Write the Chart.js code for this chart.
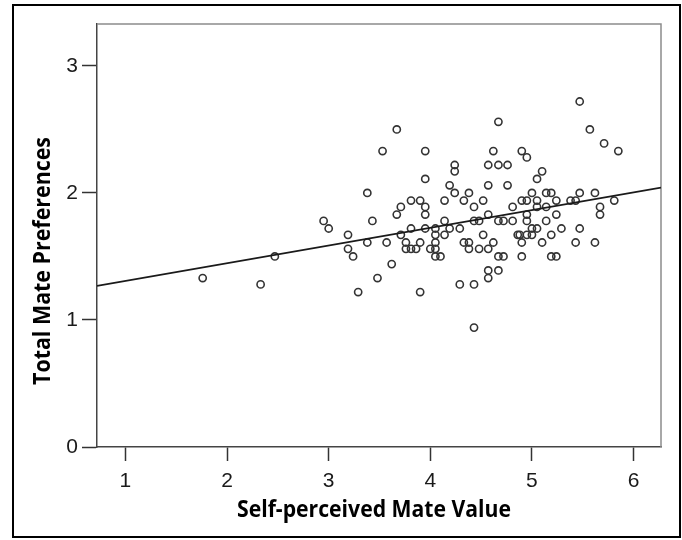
<!DOCTYPE html>
<html>
<head>
<meta charset="utf-8">
<script src="https://cdn.jsdelivr.net/npm/chart.js@4/dist/chart.umd.min.js"></script>
<style>
  body { margin: 0; background: #fff; }
  #wrap { width: 682px; height: 540px; }
</style>
</head>
<body>
<div id="wrap"><canvas id="scatter" width="682" height="540"></canvas></div>
<script>
// Self-perceived mate value (x) vs total mate preferences (y)
const mateValue = [
  1.76, 2.33, 2.47, 2.95, 3.00, 3.19, 3.19, 3.24, 3.29, 3.38, 3.38, 3.43, 3.48, 3.53, 3.57, 3.62,
  3.67, 3.67, 3.71, 3.71, 3.76, 3.76, 3.81, 3.81, 3.81, 3.86, 3.90, 3.90, 3.90, 3.95, 3.95, 3.95,
  3.95, 3.95, 4.00, 4.05, 4.05, 4.05, 4.05, 4.05, 4.10, 4.14, 4.14, 4.14, 4.19, 4.19, 4.24, 4.24,
  4.24, 4.29, 4.29, 4.33, 4.33, 4.38, 4.38, 4.38, 4.43, 4.43, 4.43, 4.43, 4.48, 4.48, 4.52, 4.52,
  4.57, 4.57, 4.57, 4.57, 4.57, 4.57, 4.62, 4.62, 4.67, 4.67, 4.67, 4.67, 4.67, 4.72, 4.72, 4.76,
  4.76, 4.81, 4.81, 4.86, 4.88, 4.90, 4.90, 4.90, 4.90, 4.95, 4.95, 4.95, 4.95, 4.95, 5.00, 5.00,
  5.00, 5.05, 5.05, 5.05, 5.05, 5.10, 5.10, 5.14, 5.14, 5.14, 5.19, 5.19, 5.19, 5.24, 5.24, 5.24,
  5.29, 5.38, 5.43, 5.43, 5.47, 5.47, 5.47, 5.57, 5.62, 5.62, 5.67, 5.67, 5.71, 5.81, 5.85
];
const matePrefs = [
  1.33, 1.28, 1.50, 1.78, 1.72, 1.67, 1.56, 1.50, 1.22, 2.00, 1.61, 1.78, 1.33, 2.33, 1.61, 1.44,
  2.50, 1.83, 1.89, 1.67, 1.61, 1.56, 1.94, 1.72, 1.56, 1.56, 1.94, 1.61, 1.22, 2.33, 2.11, 1.89,
  1.83, 1.72, 1.56, 1.72, 1.67, 1.61, 1.56, 1.50, 1.50, 1.94, 1.78, 1.67, 2.06, 1.72, 2.22, 2.17,
  2.00, 1.72, 1.28, 1.94, 1.61, 2.00, 1.61, 1.56, 1.89, 1.78, 1.28, 0.94, 1.78, 1.56, 1.94, 1.67,
  2.22, 2.06, 1.83, 1.56, 1.39, 1.33, 2.33, 1.61, 2.56, 2.22, 1.78, 1.50, 1.39, 1.78, 1.50, 2.22,
  2.06, 1.89, 1.78, 1.67, 1.67, 2.33, 1.94, 1.61, 1.50, 2.28, 1.94, 1.83, 1.78, 1.67, 2.00, 1.72,
  1.67, 2.11, 1.94, 1.89, 1.72, 2.17, 1.61, 2.00, 1.89, 1.78, 2.00, 1.67, 1.50, 1.94, 1.83, 1.50,
  1.72, 1.94, 1.94, 1.61, 2.72, 2.00, 1.72, 2.50, 2.00, 1.61, 1.89, 1.83, 2.39, 1.94, 2.33
];

// linear fit line, drawn across the full x range
const fitIntercept = 1.168;
const fitSlope = 0.1395;
const xRange = [0.72, 6.27];
const yRange = [0, 3.33];
const xTicks = [1, 2, 3, 4, 5, 6];
const yTicks = [0, 1, 2, 3];

const xTitle = 'Self-perceived Mate Value';
const yTitle = 'Total Mate Preferences';

const points = mateValue.map((x, i) => ({ x: x, y: matePrefs[i] }));
const fitPoints = xRange.map(x => ({ x: x, y: fitIntercept + fitSlope * x }));

// squeeze bold text into the narrow look of the original
function drawTitle(ctx, text, cx, baseline, width, rotated) {
  ctx.save();
  ctx.font = 'bold 24px "Open Sans"';
  ctx.fillStyle = '#000';
  ctx.textAlign = 'center';
  ctx.textBaseline = 'alphabetic';
  const w = ctx.measureText(text).width;
  if (rotated) {
    ctx.translate(baseline, cx);
    ctx.rotate(-Math.PI / 2);
  } else {
    ctx.translate(cx, baseline);
  }
  ctx.scale(width / w, 1);
  ctx.fillText(text, 0, 0);
  ctx.restore();
}

const framePlugin = {
  id: 'frame',
  beforeDatasetsDraw(chart) {
    const a = chart.chartArea;
    const ctx = chart.ctx;
    ctx.save();
    ctx.strokeStyle = '#8c8c8c';
    ctx.lineWidth = 1.5;
    ctx.beginPath();
    ctx.moveTo(a.left, a.top);
    ctx.lineTo(a.right, a.top);
    ctx.lineTo(a.right, a.bottom);
    ctx.stroke();
    ctx.restore();
  },
  afterDraw(chart) {
    const ctx = chart.ctx;
    ctx.save();
    ctx.strokeStyle = '#000';
    ctx.lineWidth = 2;
    ctx.strokeRect(13, 5, 667, 532);
    ctx.restore();
    drawTitle(ctx, xTitle, 374, 517, 274, false);
    drawTitle(ctx, yTitle, 261, 50, 248, true);
  }
};

new Chart(document.getElementById('scatter'), {
  type: 'scatter',
  data: {
    datasets: [{
      label: 'Participants',
      data: points,
      pointStyle: 'circle',
      pointRadius: 3.6,
      pointBorderWidth: 1.6,
      borderColor: '#333',
      backgroundColor: 'rgba(0,0,0,0)',
      order: 2
    }, {
      type: 'line',
      label: 'Fit',
      data: fitPoints,
      borderColor: '#1a1a1a',
      borderWidth: 1.8,
      pointRadius: 0,
      fill: false,
      order: 1
    }]
  },
  options: {
    responsive: false,
    animation: false,
    devicePixelRatio: 1,
    layout: { padding: { left: 0, top: 24, right: 21, bottom: 0 } },
    plugins: {
      legend: { display: false },
      tooltip: { enabled: false }
    },
    scales: {
      x: {
        type: 'linear',
        min: xRange[0],
        max: xRange[1],
        afterFit: s => { s.height = 93; },
        afterBuildTicks: s => { s.ticks = xTicks.map(v => ({ value: v })); },
        grid: { drawOnChartArea: false, tickLength: 14, tickWidth: 1.5, tickColor: '#333' },
        border: { color: '#444', width: 1.5 },
        ticks: {
          padding: 8,
          color: '#1a1a1a',
          font: { family: '"Liberation Sans", Arial, sans-serif', size: 21 },
          maxRotation: 0
        }
      },
      y: {
        type: 'linear',
        min: yRange[0],
        max: yRange[1],
        afterFit: s => { s.width = 97; },
        afterBuildTicks: s => { s.ticks = yTicks.map(v => ({ value: v })); },
        grid: { drawOnChartArea: false, tickLength: 15, tickWidth: 1.5, tickColor: '#333' },
        border: { color: '#444', width: 1.5 },
        ticks: {
          padding: 4,
          color: '#1a1a1a',
          font: { family: '"Liberation Sans", Arial, sans-serif', size: 21 }
        }
      }
    }
  },
  plugins: [framePlugin]
});
</script>
</body>
</html>
